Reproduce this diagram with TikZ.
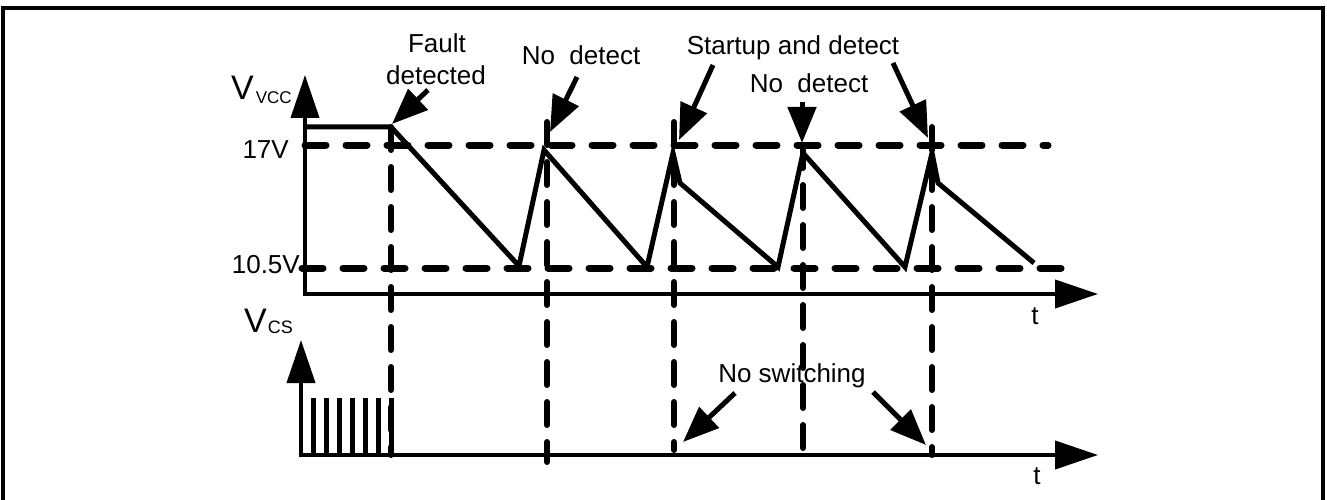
\documentclass[tikz,border=0pt]{standalone}
\usepackage{fontspec}
\setmainfont{Liberation Sans}
\usetikzlibrary{arrows.meta}
\begin{document}
\begin{tikzpicture}[x=1pt,y=-1pt,
  axis/.style={line width=4pt,line join=miter,{Triangle[length=43pt,width=28pt]}-{Triangle[length=43pt,width=28pt]}},
  guide/.style={line width=7pt,line cap=round,dash pattern=on 21pt off 20pt},
  vguide/.style={line width=6pt,line cap=round,dash pattern=on 23pt off 17pt},
  wave/.style={line width=5pt,line join=miter},
  pulse/.style={line width=4.5pt},
  callout/.style={line width=5pt,-{Triangle[length=36pt,width=28pt]}},
  lbl/.style={font=\fontsize{26}{30}\selectfont,inner sep=0pt},
]
\useasboundingbox (0,0) rectangle (1327,500);
% frame
\draw[line width=4.5pt] (3,510) -- (3,8) -- (1323,8) -- (1323,510);

% axes
\coordinate (vtop) at (305,75);
\coordinate (vo) at (305,294);
\coordinate (vend) at (1098,294);
\coordinate (ctop) at (301,340);
\coordinate (co) at (301,455);
\coordinate (cend) at (1098,455);
\draw[axis] (vtop) -- (vo) -- (vend);
\draw[axis] (ctop) -- (co) -- (cend);

% threshold lines
\coordinate (h17a) at (305,145);
\coordinate (h17b) at (1048,145);
\coordinate (h10a) at (302,268);
\coordinate (h10b) at (1062,268);
\draw[guide] (h17a) -- (h17b);
\draw[guide] (h10a) -- (h10b);

% vertical event lines
\foreach \n/\x/\ya/\yb in {1/391/127/455, 2/547/122/462, 3/674/122/450, 4/803/145/450, 5/932/127/455}{
  \coordinate (va\n) at (\x,\ya);
  \coordinate (vb\n) at (\x,\yb);
  \draw[vguide] (va\n) -- (vb\n);
}

% VCC waveform
\draw[wave] (305,127) -- (391,127) -- (519,266) -- (544,150) -- (647,267) -- (673,153) -- (680,183)
  -- (778,267) -- (803,153) -- (905,267) -- (932,153) -- (938,183) -- (1034,263);

% switching pulses
\foreach \x in {313.3,326.7,339.3,352.7,365.7,378.3,391.3}{
  \draw[pulse] (\x,398) -- (\x,455);
}

% labels
\node[lbl,anchor=base] (fault) at (437,53) {Fault};
\node[lbl,anchor=base] (detected) at (436,85) {detected};
\node[lbl,anchor=base] (nd1) at (581,65) {No\ \ detect};
\node[lbl,anchor=base] (sad) at (793,55) {Startup and detect};
\node[lbl,anchor=base] (nd2) at (809,93) {No\ \ detect};
\node[lbl,anchor=base] (nsw) at (792,382) {No switching};
\node[lbl,anchor=base east] (l17) at (289,158) {17V};
\node[lbl,anchor=base east] (l105) at (300,273) {10.5V};
\node[lbl,anchor=base] (t1) at (1035,324) {t};
\node[lbl,anchor=base] (t2) at (1037,484) {t};
\node[inner sep=0pt,anchor=base west] (vvcc) at (231,100)
  {\fontsize{34}{34}\selectfont V\hspace{2pt}\raisebox{-4pt}{\fontsize{17}{17}\selectfont VCC}};
\node[inner sep=0pt,anchor=base west] (vcs) at (244,332)
  {\fontsize{34}{34}\selectfont V\hspace{1pt}\raisebox{-1pt}{\fontsize{18}{18}\selectfont CS}};

% callout arrows
\coordinate (a1s) at (428,90);  \coordinate (a1e) at (392,124);
\coordinate (a2s) at (577,77);  \coordinate (a2e) at (550,132);
\coordinate (a3s) at (713,65);  \coordinate (a3e) at (679,140);
\coordinate (a4s) at (802,102); \coordinate (a4e) at (802,143);
\coordinate (a5s) at (893,63);  \coordinate (a5e) at (928,138);
\coordinate (a6s) at (735,393); \coordinate (a6e) at (683,442);
\coordinate (a7s) at (873,392); \coordinate (a7e) at (926,445);
\foreach \i in {1,...,7}{
  \draw[callout] (a\i s) -- (a\i e);
}
\end{tikzpicture}
\end{document}
